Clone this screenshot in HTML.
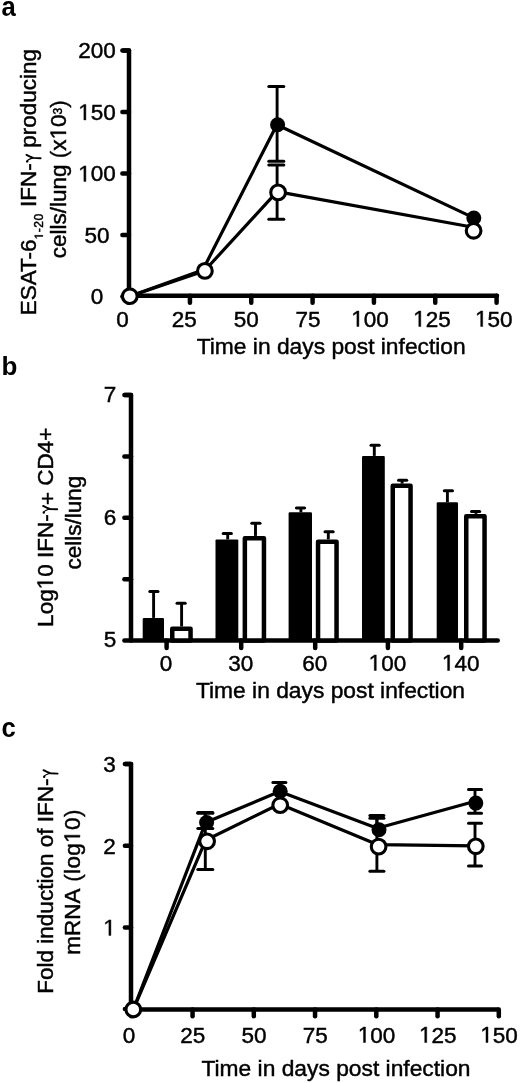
<!DOCTYPE html>
<html><head><meta charset="utf-8"><style>
html,body{margin:0;padding:0;background:#fff;}
body{width:520px;height:1083px;overflow:hidden;}
svg{display:block;font-family:"Liberation Sans", sans-serif;filter:grayscale(1);}
text{stroke:#000;stroke-width:0.45px;}
.gm{fill:transparent;stroke:none;letter-spacing:-2px;}
.gp{fill:none;stroke:#000;stroke-width:1.9px;stroke-linecap:round;stroke-linejoin:round;}
.gp2{fill:none;stroke:#000;stroke-width:1.2px;stroke-linecap:round;}
.one{fill:transparent;stroke:none;}
.onep{fill:#000;stroke:#000;stroke-width:0.45px;vector-effect:non-scaling-stroke;}
</style></head><body>
<svg width="520" height="1083" viewBox="0 0 520 1083">
<text transform="translate(1.6,16.4) scale(0.9,1)" font-size="28.5" font-weight="bold" style="stroke-width:0">a</text>
<polyline points="122.4,50.4 129,50.4 129,295.7" fill="none" stroke="#000" stroke-width="4.5" stroke-linejoin="round"/>
<line x1="122.4" y1="50.4" x2="129" y2="50.4" stroke="#000" stroke-width="4.5" stroke-linecap="round"/>
<g><text class="tx" x="97" y="58.4" font-size="22.5" text-anchor="middle" >200</text></g>
<line x1="122.4" y1="111.9" x2="129" y2="111.9" stroke="#000" stroke-width="4.5" stroke-linecap="round"/>
<g><text class="tx" x="97" y="119.9" font-size="22.5" text-anchor="middle" ><tspan class="one">1</tspan>50</text><path transform="translate(78.23,119.90) scale(0.01099,-0.01099)" d="M515,0L515,1237Q360,1120 197,1010L197,1180Q380,1290 530,1409L696,1409L696,0Z" class="onep"/></g>
<line x1="122.4" y1="173.4" x2="129" y2="173.4" stroke="#000" stroke-width="4.5" stroke-linecap="round"/>
<g><text class="tx" x="97" y="181.4" font-size="22.5" text-anchor="middle" ><tspan class="one">1</tspan>00</text><path transform="translate(78.23,181.40) scale(0.01099,-0.01099)" d="M515,0L515,1237Q360,1120 197,1010L197,1180Q380,1290 530,1409L696,1409L696,0Z" class="onep"/></g>
<line x1="122.4" y1="234.9" x2="129" y2="234.9" stroke="#000" stroke-width="4.5" stroke-linecap="round"/>
<g><text class="tx" x="97" y="242.9" font-size="22.5" text-anchor="middle" >50</text></g>
<line x1="122.4" y1="296.4" x2="129" y2="296.4" stroke="#000" stroke-width="4.5" stroke-linecap="round"/>
<g><text class="tx" x="97" y="304.4" font-size="22.5" text-anchor="middle" >0</text></g>
<line x1="129" y1="295.7" x2="497" y2="295.7" stroke="#000" stroke-width="4.5" stroke-linecap="round"/>
<line x1="128.6" y1="295.7" x2="128.6" y2="302.7" stroke="#000" stroke-width="4.5" stroke-linecap="round"/>
<g><text class="tx" x="122.4" y="326.5" font-size="22.5" text-anchor="middle" >0</text></g>
<line x1="189.93" y1="295.7" x2="189.93" y2="302.7" stroke="#000" stroke-width="4.5" stroke-linecap="round"/>
<g><text class="tx" x="184.3" y="326.5" font-size="22.5" text-anchor="middle" >25</text></g>
<line x1="251.26" y1="295.7" x2="251.26" y2="302.7" stroke="#000" stroke-width="4.5" stroke-linecap="round"/>
<g><text class="tx" x="246.2" y="326.5" font-size="22.5" text-anchor="middle" >50</text></g>
<line x1="312.59000000000003" y1="295.7" x2="312.59000000000003" y2="302.7" stroke="#000" stroke-width="4.5" stroke-linecap="round"/>
<g><text class="tx" x="308.1" y="326.5" font-size="22.5" text-anchor="middle" >75</text></g>
<line x1="373.91999999999996" y1="295.7" x2="373.91999999999996" y2="302.7" stroke="#000" stroke-width="4.5" stroke-linecap="round"/>
<g><text class="tx" x="370.0" y="326.5" font-size="22.5" text-anchor="middle" ><tspan class="one">1</tspan>00</text><path transform="translate(351.23,326.50) scale(0.01099,-0.01099)" d="M515,0L515,1237Q360,1120 197,1010L197,1180Q380,1290 530,1409L696,1409L696,0Z" class="onep"/></g>
<line x1="435.25" y1="295.7" x2="435.25" y2="302.7" stroke="#000" stroke-width="4.5" stroke-linecap="round"/>
<g><text class="tx" x="431.9" y="326.5" font-size="22.5" text-anchor="middle" ><tspan class="one">1</tspan>25</text><path transform="translate(413.13,326.50) scale(0.01099,-0.01099)" d="M515,0L515,1237Q360,1120 197,1010L197,1180Q380,1290 530,1409L696,1409L696,0Z" class="onep"/></g>
<line x1="496.58000000000004" y1="295.7" x2="496.58000000000004" y2="302.7" stroke="#000" stroke-width="4.5" stroke-linecap="round"/>
<g><text class="tx" x="493.79999999999995" y="326.5" font-size="22.5" text-anchor="middle" ><tspan class="one">1</tspan>50</text><path transform="translate(475.03,326.50) scale(0.01099,-0.01099)" d="M515,0L515,1237Q360,1120 197,1010L197,1180Q380,1290 530,1409L696,1409L696,0Z" class="onep"/></g>
<g><text class="tx" x="331.2" y="354.3" font-size="22.8" text-anchor="middle" >Time in days post infection</text></g>
<g transform="translate(36.3,182.1) rotate(-90)"><text class="tx" x="0" y="0" font-size="22.5" text-anchor="middle" >ESAT-6<tspan font-size="12" dy="6.6" style="letter-spacing:0.55px"><tspan class="one">1</tspan>-20</tspan><tspan dy="-6.6"> IFN-<tspan class="gm">γ</tspan> producing</tspan></text><path transform="translate(-57.34,6.60) scale(0.00586,-0.00586)" d="M515,0L515,1237Q360,1120 197,1010L197,1180Q380,1290 530,1409L696,1409L696,0Z" class="onep"/><path transform="translate(18.89,0.00)" d="M8.4,-9.8 Q6.3,-6.2 5.3,-3.0 L5.0,4.3" class="gp"/><path transform="translate(18.89,0.00)" d="M1.8,-9.3 Q3.9,-8.6 5.3,-3.0" class="gp2"/><circle cx="1.8" cy="-9.1" r="1.2" transform="translate(18.89,0.00)"/></g>
<g transform="translate(66,179.2) rotate(-90)"><text class="tx" x="0" y="0" font-size="22.5" text-anchor="middle" >cells/lung (x<tspan class="one">1</tspan>0<tspan font-size="12" dy="-4.5">3</tspan><tspan dy="4.5">)</tspan></text><path transform="translate(39.79,0.00) scale(0.01099,-0.01099)" d="M515,0L515,1237Q360,1120 197,1010L197,1180Q380,1290 530,1409L696,1409L696,0Z" class="onep"/></g>
<line x1="277.1" y1="124.7" x2="277.1" y2="86.4" stroke="#000" stroke-width="2.9" stroke-linecap="butt"/>
<line x1="268.8" y1="86.4" x2="283.8" y2="86.4" stroke="#000" stroke-width="3" stroke-linecap="round"/>
<line x1="277.1" y1="124.7" x2="277.1" y2="161.3" stroke="#000" stroke-width="2.9" stroke-linecap="butt"/>
<line x1="268.8" y1="161.3" x2="283.8" y2="161.3" stroke="#000" stroke-width="3" stroke-linecap="round"/>
<line x1="277.1" y1="192.2" x2="277.1" y2="164.9" stroke="#000" stroke-width="2.9" stroke-linecap="butt"/>
<line x1="268.8" y1="164.9" x2="283.8" y2="164.9" stroke="#000" stroke-width="3" stroke-linecap="round"/>
<line x1="277.1" y1="192.2" x2="277.1" y2="219.2" stroke="#000" stroke-width="2.9" stroke-linecap="butt"/>
<line x1="268.8" y1="219.2" x2="283.8" y2="219.2" stroke="#000" stroke-width="3" stroke-linecap="round"/>
<polyline points="129.8,296.2 202.8,269.9 276.9,124.7 473.8,217.9" fill="none" stroke="#000" stroke-width="3.2" stroke-linejoin="round"/>
<polyline points="129.8,296.2 204.3,271.0 277.1,191.6 473.2,227.3" fill="none" stroke="#000" stroke-width="3.2" stroke-linejoin="round"/>
<circle cx="129.8" cy="296.2" r="7.5" fill="#000"/>
<circle cx="204.6" cy="271.1" r="7.5" fill="#000"/>
<circle cx="277.6" cy="124.7" r="7.5" fill="#000"/>
<circle cx="473.8" cy="218.0" r="7.5" fill="#000"/>
<circle cx="129.8" cy="296.2" r="7.35" fill="#fff" stroke="#000" stroke-width="3.1"/>
<circle cx="204.9" cy="270.9" r="7.35" fill="#fff" stroke="#000" stroke-width="3.1"/>
<circle cx="278.1" cy="192.4" r="7.35" fill="#fff" stroke="#000" stroke-width="3.1"/>
<circle cx="473.6" cy="230.8" r="7.35" fill="#fff" stroke="#000" stroke-width="3.1"/>
<text transform="translate(1.6,375.4) scale(1,1)" font-size="26" font-weight="bold" style="stroke-width:0">b</text>
<polyline points="124.4,395 131,395 131,640.5" fill="none" stroke="#000" stroke-width="4.5" stroke-linejoin="round"/>
<line x1="124.4" y1="395.0" x2="131" y2="395.0" stroke="#000" stroke-width="4.5" stroke-linecap="round"/>
<g><text class="tx" x="110" y="401.8" font-size="22.5" text-anchor="middle" >7</text></g>
<line x1="124.4" y1="456.4" x2="131" y2="456.4" stroke="#000" stroke-width="4.5" stroke-linecap="round"/>
<line x1="124.4" y1="517.8" x2="131" y2="517.8" stroke="#000" stroke-width="4.5" stroke-linecap="round"/>
<g><text class="tx" x="110" y="524.5999999999999" font-size="22.5" text-anchor="middle" >6</text></g>
<line x1="124.4" y1="579.2" x2="131" y2="579.2" stroke="#000" stroke-width="4.5" stroke-linecap="round"/>
<line x1="124.4" y1="640.6" x2="131" y2="640.6" stroke="#000" stroke-width="4.5" stroke-linecap="round"/>
<g><text class="tx" x="110" y="647.4" font-size="22.5" text-anchor="middle" >5</text></g>
<line x1="131" y1="640.5" x2="497.7" y2="640.5" stroke="#000" stroke-width="4.5" stroke-linecap="round"/>
<line x1="166.6" y1="640.5" x2="166.6" y2="648.1" stroke="#000" stroke-width="4.5" stroke-linecap="round"/>
<g><text class="tx" x="166.1" y="670.5" font-size="22.5" text-anchor="middle" >0</text></g>
<line x1="153.6" y1="617.9" x2="153.6" y2="591.5" stroke="#000" stroke-width="2.9" stroke-linecap="butt"/>
<line x1="149.8" y1="591.5" x2="158.0" y2="591.5" stroke="#000" stroke-width="3.0" stroke-linecap="round"/>
<rect x="142.7" y="617.9" width="21.30" height="22.60" rx="1.2" fill="#000"/>
<line x1="181.6" y1="626.5" x2="181.6" y2="603.3" stroke="#000" stroke-width="2.9" stroke-linecap="butt"/>
<line x1="177.0" y1="603.3" x2="185.2" y2="603.3" stroke="#000" stroke-width="3.0" stroke-linecap="round"/>
<rect x="172.25" y="628.75" width="18.30" height="11.75" fill="#fff" stroke="#000" stroke-width="4.5" stroke-linejoin="round"/>
<line x1="241.2" y1="640.5" x2="241.2" y2="648.1" stroke="#000" stroke-width="4.5" stroke-linecap="round"/>
<g><text class="tx" x="240.7" y="670.5" font-size="22.5" text-anchor="middle" >30</text></g>
<line x1="227.7" y1="539.4" x2="227.7" y2="533.5" stroke="#000" stroke-width="2.9" stroke-linecap="butt"/>
<line x1="223.20000000000002" y1="533.5" x2="231.4" y2="533.5" stroke="#000" stroke-width="3.0" stroke-linecap="round"/>
<rect x="215.5" y="539.4" width="22.80" height="101.10" rx="1.2" fill="#000"/>
<line x1="255.5" y1="535.9" x2="255.5" y2="523.3" stroke="#000" stroke-width="2.9" stroke-linecap="butt"/>
<line x1="251.8" y1="523.3" x2="260.0" y2="523.3" stroke="#000" stroke-width="3.0" stroke-linecap="round"/>
<rect x="244.85" y="538.15" width="19.10" height="102.35" fill="#fff" stroke="#000" stroke-width="4.5" stroke-linejoin="round"/>
<line x1="315.2" y1="640.5" x2="315.2" y2="648.1" stroke="#000" stroke-width="4.5" stroke-linecap="round"/>
<g><text class="tx" x="314.7" y="670.5" font-size="22.5" text-anchor="middle" >60</text></g>
<line x1="300.9" y1="512.3" x2="300.9" y2="507.9" stroke="#000" stroke-width="2.9" stroke-linecap="butt"/>
<line x1="296.4" y1="507.9" x2="304.6" y2="507.9" stroke="#000" stroke-width="3.0" stroke-linecap="round"/>
<rect x="288.6" y="512.3" width="23.40" height="128.20" rx="1.2" fill="#000"/>
<line x1="328.3" y1="539.4" x2="328.3" y2="531.7" stroke="#000" stroke-width="2.9" stroke-linecap="butt"/>
<line x1="325.0" y1="531.7" x2="333.20000000000005" y2="531.7" stroke="#000" stroke-width="3.0" stroke-linecap="round"/>
<rect x="318.05" y="541.65" width="18.50" height="98.85" fill="#fff" stroke="#000" stroke-width="4.5" stroke-linejoin="round"/>
<line x1="387.9" y1="640.5" x2="387.9" y2="648.1" stroke="#000" stroke-width="4.5" stroke-linecap="round"/>
<g><text class="tx" x="387.4" y="670.5" font-size="22.5" text-anchor="middle" ><tspan class="one">1</tspan>00</text><path transform="translate(368.63,670.50) scale(0.01099,-0.01099)" d="M515,0L515,1237Q360,1120 197,1010L197,1180Q380,1290 530,1409L696,1409L696,0Z" class="onep"/></g>
<line x1="374.3" y1="455.90000000000003" x2="374.3" y2="445.2" stroke="#000" stroke-width="2.9" stroke-linecap="butt"/>
<line x1="371.0" y1="445.2" x2="379.20000000000005" y2="445.2" stroke="#000" stroke-width="3.0" stroke-linecap="round"/>
<rect x="362" y="455.90000000000003" width="22.80" height="184.60" rx="1.2" fill="#000"/>
<line x1="402.1" y1="483.6" x2="402.1" y2="480.3" stroke="#000" stroke-width="2.9" stroke-linecap="butt"/>
<line x1="398.5" y1="480.3" x2="406.70000000000005" y2="480.3" stroke="#000" stroke-width="3.0" stroke-linecap="round"/>
<rect x="392.75" y="485.85" width="17.80" height="154.65" fill="#fff" stroke="#000" stroke-width="4.5" stroke-linejoin="round"/>
<line x1="461.2" y1="640.5" x2="461.2" y2="648.1" stroke="#000" stroke-width="4.5" stroke-linecap="round"/>
<g><text class="tx" x="460.7" y="670.5" font-size="22.5" text-anchor="middle" ><tspan class="one">1</tspan>40</text><path transform="translate(441.93,670.50) scale(0.01099,-0.01099)" d="M515,0L515,1237Q360,1120 197,1010L197,1180Q380,1290 530,1409L696,1409L696,0Z" class="onep"/></g>
<line x1="447.4" y1="502.3" x2="447.4" y2="490.7" stroke="#000" stroke-width="2.9" stroke-linecap="butt"/>
<line x1="444.29999999999995" y1="490.7" x2="452.5" y2="490.7" stroke="#000" stroke-width="3.0" stroke-linecap="round"/>
<rect x="436.7" y="502.3" width="21.30" height="138.20" rx="1.2" fill="#000"/>
<line x1="476.0" y1="513.9" x2="476.0" y2="511.4" stroke="#000" stroke-width="2.9" stroke-linecap="butt"/>
<line x1="471.5" y1="511.4" x2="479.70000000000005" y2="511.4" stroke="#000" stroke-width="3.0" stroke-linecap="round"/>
<rect x="466.25" y="516.15" width="18.30" height="124.35" fill="#fff" stroke="#000" stroke-width="4.5" stroke-linejoin="round"/>
<g><text class="tx" x="330.5" y="698" font-size="22.8" text-anchor="middle" >Time in days post infection</text></g>
<g transform="translate(52.9,527.2) rotate(-90)"><text class="tx" x="0" y="0" font-size="22.5" text-anchor="middle" >Log<tspan class="one">1</tspan>0 IFN-<tspan class="gm">γ</tspan><tspan dy="2">+</tspan><tspan dy="-2"> CD4+</tspan></text><path transform="translate(-62.14,0.00) scale(0.01099,-0.01099)" d="M515,0L515,1237Q360,1120 197,1010L197,1180Q380,1290 530,1409L696,1409L696,0Z" class="onep"/><path transform="translate(12.89,0.00)" d="M8.4,-9.8 Q6.3,-6.2 5.3,-3.0 L5.0,4.3" class="gp"/><path transform="translate(12.89,0.00)" d="M1.8,-9.3 Q3.9,-8.6 5.3,-3.0" class="gp2"/><circle cx="1.8" cy="-9.1" r="1.2" transform="translate(12.89,0.00)"/></g>
<g transform="translate(80.8,522.7) rotate(-90)"><text class="tx" x="0" y="0" font-size="22.5" text-anchor="middle" >cells/lung</text></g>
<text transform="translate(1.6,736.9) scale(0.9,1)" font-size="28.5" font-weight="bold" style="stroke-width:0">c</text>
<polyline points="124.9,764 131,764 131,1009.4" fill="none" stroke="#000" stroke-width="4.5" stroke-linejoin="round"/>
<line x1="124.9" y1="764.0" x2="131" y2="764.0" stroke="#000" stroke-width="4.5" stroke-linecap="round"/>
<g><text class="tx" x="109.5" y="772.0" font-size="22.5" text-anchor="middle" >3</text></g>
<line x1="124.9" y1="845.7" x2="131" y2="845.7" stroke="#000" stroke-width="4.5" stroke-linecap="round"/>
<g><text class="tx" x="109.5" y="853.7" font-size="22.5" text-anchor="middle" >2</text></g>
<line x1="124.9" y1="927.4" x2="131" y2="927.4" stroke="#000" stroke-width="4.5" stroke-linecap="round"/>
<g><text class="tx" x="109.5" y="935.4" font-size="22.5" text-anchor="middle" ><tspan class="one">1</tspan></text><path transform="translate(103.24,935.40) scale(0.01099,-0.01099)" d="M515,0L515,1237Q360,1120 197,1010L197,1180Q380,1290 530,1409L696,1409L696,0Z" class="onep"/></g>
<line x1="124.9" y1="1009.1" x2="131" y2="1009.1" stroke="#000" stroke-width="4.5" stroke-linecap="round"/>
<line x1="131" y1="1009.4" x2="497.7" y2="1009.4" stroke="#000" stroke-width="4.5" stroke-linecap="round"/>
<line x1="131.3" y1="1009.4" x2="131.3" y2="1016.2" stroke="#000" stroke-width="4.5" stroke-linecap="round"/>
<g><text class="tx" x="129" y="1042.5" font-size="22.5" text-anchor="middle" >0</text></g>
<line x1="192.55" y1="1009.4" x2="192.55" y2="1016.2" stroke="#000" stroke-width="4.5" stroke-linecap="round"/>
<g><text class="tx" x="192.85" y="1042.5" font-size="22.5" text-anchor="middle" >25</text></g>
<line x1="253.8" y1="1009.4" x2="253.8" y2="1016.2" stroke="#000" stroke-width="4.5" stroke-linecap="round"/>
<g><text class="tx" x="254.1" y="1042.5" font-size="22.5" text-anchor="middle" >50</text></g>
<line x1="315.05" y1="1009.4" x2="315.05" y2="1016.2" stroke="#000" stroke-width="4.5" stroke-linecap="round"/>
<g><text class="tx" x="315.35" y="1042.5" font-size="22.5" text-anchor="middle" >75</text></g>
<line x1="376.3" y1="1009.4" x2="376.3" y2="1016.2" stroke="#000" stroke-width="4.5" stroke-linecap="round"/>
<g><text class="tx" x="376.6" y="1042.5" font-size="22.5" text-anchor="middle" ><tspan class="one">1</tspan>00</text><path transform="translate(357.83,1042.50) scale(0.01099,-0.01099)" d="M515,0L515,1237Q360,1120 197,1010L197,1180Q380,1290 530,1409L696,1409L696,0Z" class="onep"/></g>
<line x1="437.55" y1="1009.4" x2="437.55" y2="1016.2" stroke="#000" stroke-width="4.5" stroke-linecap="round"/>
<g><text class="tx" x="437.85" y="1042.5" font-size="22.5" text-anchor="middle" ><tspan class="one">1</tspan>25</text><path transform="translate(419.08,1042.50) scale(0.01099,-0.01099)" d="M515,0L515,1237Q360,1120 197,1010L197,1180Q380,1290 530,1409L696,1409L696,0Z" class="onep"/></g>
<line x1="498.8" y1="1009.4" x2="498.8" y2="1016.2" stroke="#000" stroke-width="4.5" stroke-linecap="round"/>
<g><text class="tx" x="499.1" y="1042.5" font-size="22.5" text-anchor="middle" ><tspan class="one">1</tspan>50</text><path transform="translate(480.33,1042.50) scale(0.01099,-0.01099)" d="M515,0L515,1237Q360,1120 197,1010L197,1180Q380,1290 530,1409L696,1409L696,0Z" class="onep"/></g>
<g><text class="tx" x="336" y="1075.8" font-size="22.8" text-anchor="middle" >Time in days post infection</text></g>
<g transform="translate(53.3,881.5) rotate(-90)"><text class="tx" x="0" y="0" font-size="22.5" text-anchor="middle" >Fold induction of IFN-<tspan class="gm">γ</tspan></text><path transform="translate(102.92,0.00)" d="M8.4,-9.8 Q6.3,-6.2 5.3,-3.0 L5.0,4.3" class="gp"/><path transform="translate(102.92,0.00)" d="M1.8,-9.3 Q3.9,-8.6 5.3,-3.0" class="gp2"/><circle cx="1.8" cy="-9.1" r="1.2" transform="translate(102.92,0.00)"/></g>
<g transform="translate(79.9,882.0) rotate(-90)"><text class="tx" x="0" y="0" font-size="22.5" text-anchor="middle" >mRNA <tspan dx="1.8" style="letter-spacing:0.35px">(log<tspan class="one">1</tspan>0)</tspan></text><path transform="translate(39.20,0.00) scale(0.01099,-0.01099)" d="M515,0L515,1237Q360,1120 197,1010L197,1180Q380,1290 530,1409L696,1409L696,0Z" class="onep"/></g>
<line x1="205.3" y1="822.6" x2="205.3" y2="812.5" stroke="#000" stroke-width="2.9" stroke-linecap="butt"/>
<line x1="197.8" y1="812.5" x2="212.8" y2="812.5" stroke="#000" stroke-width="3" stroke-linecap="round"/>
<line x1="205.3" y1="822.6" x2="205.3" y2="828.6" stroke="#000" stroke-width="2.9" stroke-linecap="butt"/>
<line x1="197.8" y1="828.6" x2="212.8" y2="828.6" stroke="#000" stroke-width="3" stroke-linecap="round"/>
<line x1="279.4" y1="791.3" x2="279.4" y2="782.5" stroke="#000" stroke-width="2.9" stroke-linecap="butt"/>
<line x1="272.9" y1="782.5" x2="285.9" y2="782.5" stroke="#000" stroke-width="3" stroke-linecap="round"/>
<line x1="376.9" y1="829.8" x2="376.9" y2="815.4" stroke="#000" stroke-width="2.9" stroke-linecap="butt"/>
<line x1="369.9" y1="815.4" x2="383.9" y2="815.4" stroke="#000" stroke-width="3" stroke-linecap="round"/>
<line x1="475" y1="803.1" x2="475" y2="789.4" stroke="#000" stroke-width="2.9" stroke-linecap="butt"/>
<line x1="468.5" y1="789.4" x2="481.5" y2="789.4" stroke="#000" stroke-width="3" stroke-linecap="round"/>
<line x1="475" y1="803.1" x2="475" y2="813.3" stroke="#000" stroke-width="2.9" stroke-linecap="butt"/>
<line x1="468.5" y1="813.3" x2="481.5" y2="813.3" stroke="#000" stroke-width="3" stroke-linecap="round"/>
<line x1="205.3" y1="841.3" x2="205.3" y2="813.2" stroke="#000" stroke-width="2.9" stroke-linecap="butt"/>
<line x1="197.8" y1="813.2" x2="212.8" y2="813.2" stroke="#000" stroke-width="3" stroke-linecap="round"/>
<line x1="205.3" y1="841.3" x2="205.3" y2="869.4" stroke="#000" stroke-width="2.9" stroke-linecap="butt"/>
<line x1="197.8" y1="869.4" x2="212.8" y2="869.4" stroke="#000" stroke-width="3" stroke-linecap="round"/>
<line x1="376.9" y1="846.6" x2="376.9" y2="818.3" stroke="#000" stroke-width="2.9" stroke-linecap="butt"/>
<line x1="369.9" y1="818.3" x2="383.9" y2="818.3" stroke="#000" stroke-width="3" stroke-linecap="round"/>
<line x1="376.9" y1="846.6" x2="376.9" y2="871.3" stroke="#000" stroke-width="2.9" stroke-linecap="butt"/>
<line x1="369.9" y1="871.3" x2="383.9" y2="871.3" stroke="#000" stroke-width="3" stroke-linecap="round"/>
<line x1="475" y1="846.3" x2="475" y2="823.3" stroke="#000" stroke-width="2.9" stroke-linecap="butt"/>
<line x1="468.5" y1="823.3" x2="481.5" y2="823.3" stroke="#000" stroke-width="3" stroke-linecap="round"/>
<line x1="475" y1="846.3" x2="475" y2="865.9" stroke="#000" stroke-width="2.9" stroke-linecap="butt"/>
<line x1="468.5" y1="865.9" x2="481.5" y2="865.9" stroke="#000" stroke-width="3" stroke-linecap="round"/>
<polyline points="133.3,1009.5 205.6,822.6 279.6,791.6 377.2,828.2 475.2,801.2" fill="none" stroke="#000" stroke-width="3.2" stroke-linejoin="round"/>
<polyline points="133.3,1009.5 205.6,840.3 279.6,804.0 377.2,844.6 475.2,845.9" fill="none" stroke="#000" stroke-width="3.2" stroke-linejoin="round"/>
<circle cx="133.3" cy="1009.5" r="7.5" fill="#000"/>
<circle cx="206.6" cy="822.6" r="7.5" fill="#000"/>
<circle cx="280.2" cy="791.3" r="7.5" fill="#000"/>
<circle cx="379" cy="829.8" r="7.5" fill="#000"/>
<circle cx="475.8" cy="803.1" r="7.5" fill="#000"/>
<circle cx="133.3" cy="1009.5" r="7.35" fill="#fff" stroke="#000" stroke-width="3.1"/>
<circle cx="207.1" cy="841.3" r="7.35" fill="#fff" stroke="#000" stroke-width="3.1"/>
<circle cx="280.2" cy="805.2" r="7.35" fill="#fff" stroke="#000" stroke-width="3.1"/>
<circle cx="378.6" cy="846.6" r="7.35" fill="#fff" stroke="#000" stroke-width="3.1"/>
<circle cx="475.8" cy="846.3" r="7.35" fill="#fff" stroke="#000" stroke-width="3.1"/>
</svg>
</body></html>
